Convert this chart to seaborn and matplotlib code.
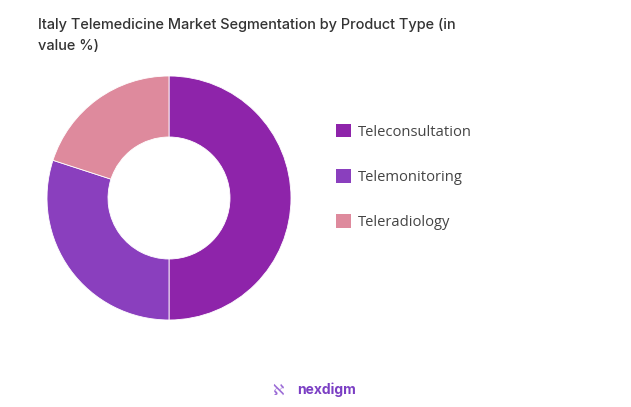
import matplotlib
matplotlib.use("Agg")
import matplotlib.pyplot as plt
import matplotlib.patches as mpatches
import seaborn as sns

# segment shares (value %)
segments = ["Teleconsultation", "Telemonitoring", "Teleradiology"]
shares = [50, 30, 20]
colors = ["#8E24AA", "#8A3FBE", "#DE8A9D"]

sns.set_theme(style="white")
plt.rcParams["font.family"] = ["Inter", "DejaVu Sans"]

fig = plt.figure(figsize=(6.31, 4.07), dpi=100)
fig.patch.set_facecolor("white")

# donut axes: centre ~ (169, 198) px, radius ~122 px
W, H = 631, 407
cx, cy, r = 169, 198, 122
ax = fig.add_axes([(cx - r) / W, (H - cy - r) / H, 2 * r / W, 2 * r / H])
ax.pie(shares, colors=colors, startangle=90, counterclock=False,
       wedgeprops=dict(width=0.5, edgecolor="white", linewidth=0.6))
ax.set_xlim(-1, 1)
ax.set_ylim(-1, 1)
ax.set_aspect("equal")
ax.axis("off")

fig.text(38 / W, 1 - 18 / H,
         "Italy Telemedicine Market Segmentation by Product Type (in\nvalue %)",
         ha="left", va="top", fontsize=10.45, fontweight="medium",
         color="#333333", linespacing=1.65)

handles = [mpatches.Patch(facecolor=c, edgecolor="none", label=s)
           for s, c in zip(segments, colors)]
leg = fig.legend(handles=handles, loc="upper left",
                 bbox_to_anchor=(323 / W, 1 - 111 / H), frameon=False,
                 labelspacing=2.0, handlelength=1.0, handleheight=1.0,
                 handletextpad=0.5, prop={"family": "Open Sans", "size": 10.6})
for t in leg.get_texts():
    t.set_color("#444444")

fig.text(327 / W, 1 - 390 / H, "nexdigm", ha="center", va="center",
         fontsize=10, fontweight="bold", color="#7B3FC4")
fig.text(278 / W, 1 - 390 / H, "\u2135", ha="center", va="center",
         fontsize=11, color="#9B6BD6", family="DejaVu Sans")

fig.savefig("out.png", dpi=100, facecolor="white")
